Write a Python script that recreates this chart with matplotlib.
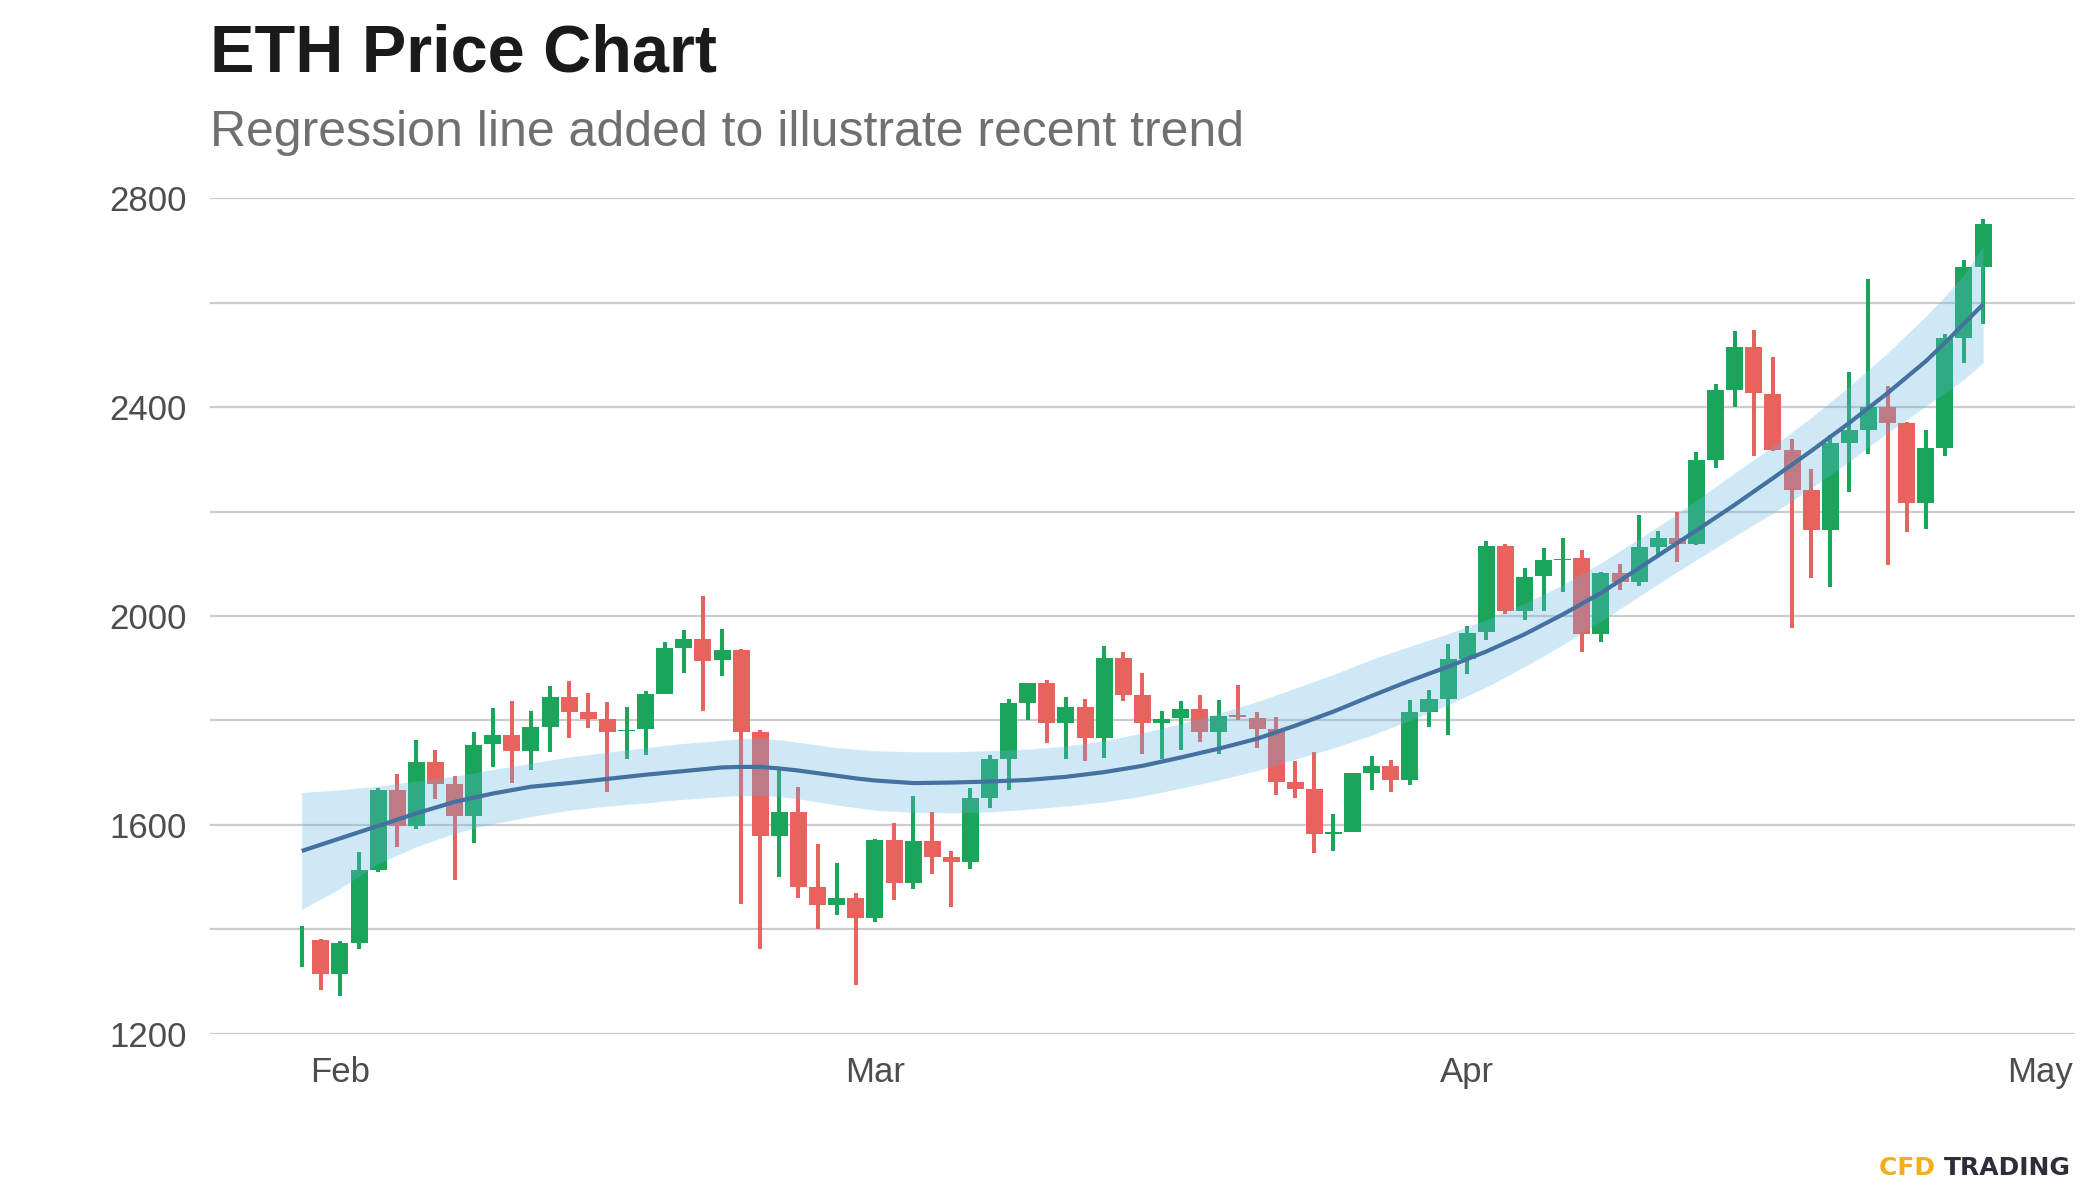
import numpy as np
import pandas as pd
import matplotlib
matplotlib.use("Agg")
import matplotlib.pyplot as plt
import matplotlib.dates as mdates

# daily candles, 2023-01-30 .. 2023-04-28
start_date = "2023-01-30"
opens = [1328, 1379, 1315, 1374, 1513, 1667, 1598, 1720, 1678, 1616,
         1754, 1772, 1742, 1788, 1845, 1816, 1803, 1779, 1783, 1851,
         1939, 1956, 1915, 1935, 1778, 1579, 1624, 1481, 1447, 1460,
         1422, 1571, 1489, 1569, 1539, 1529, 1651, 1726, 1834, 1872,
         1796, 1826, 1767, 1920, 1849, 1796, 1805, 1822, 1777, 1810,
         1805, 1783, 1683, 1669, 1583, 1587, 1700, 1712, 1686, 1817,
         1841, 1918, 1969, 2135, 2009, 2076, 2108, 2111, 1965, 2082,
         2066, 2132, 2149, 2138, 2298, 2432, 2516, 2426, 2318, 2241,
         2164, 2332, 2357, 2400, 2369, 2217, 2321, 2533, 2668]
closes = [1406, 1315, 1374, 1513, 1667, 1598, 1720, 1679, 1616, 1753,
          1772, 1742, 1788, 1845, 1817, 1803, 1778, 1782, 1851, 1939,
          1956, 1914, 1935, 1778, 1579, 1624, 1481, 1447, 1460, 1422,
          1571, 1489, 1569, 1539, 1529, 1651, 1726, 1833, 1872, 1796,
          1826, 1767, 1920, 1849, 1796, 1802, 1822, 1777, 1808, 1806,
          1784, 1683, 1669, 1582, 1586, 1700, 1712, 1686, 1816, 1841,
          1918, 1967, 2135, 2009, 2075, 2108, 2110, 1965, 2082, 2066,
          2132, 2149, 2138, 2298, 2432, 2516, 2427, 2318, 2241, 2164,
          2332, 2357, 2400, 2370, 2217, 2321, 2533, 2668, 2750]
highs = [1406, 1381, 1377, 1548, 1670, 1697, 1762, 1743, 1693, 1778,
         1824, 1838, 1818, 1866, 1875, 1852, 1835, 1826, 1856, 1950,
         1973, 2038, 1975, 1937, 1782, 1705, 1672, 1563, 1526, 1469,
         1573, 1603, 1656, 1624, 1549, 1670, 1734, 1842, 1872, 1877,
         1845, 1841, 1943, 1931, 1890, 1819, 1837, 1849, 1840, 1868,
         1817, 1806, 1722, 1739, 1621, 1700, 1731, 1725, 1840, 1859,
         1946, 1981, 2144, 2138, 2092, 2130, 2150, 2127, 2085, 2100,
         2194, 2162, 2199, 2314, 2445, 2545, 2547, 2496, 2339, 2281,
         2347, 2468, 2645, 2440, 2371, 2357, 2541, 2681, 2761]
lows = [1328, 1284, 1273, 1362, 1510, 1558, 1593, 1649, 1495, 1566,
        1711, 1681, 1705, 1740, 1766, 1786, 1662, 1726, 1734, 1850,
        1891, 1819, 1886, 1448, 1362, 1501, 1460, 1401, 1427, 1294,
        1414, 1457, 1478, 1506, 1443, 1515, 1632, 1667, 1800, 1757,
        1726, 1722, 1729, 1838, 1736, 1726, 1743, 1759, 1735, 1801,
        1748, 1657, 1652, 1547, 1549, 1587, 1667, 1662, 1677, 1787,
        1772, 1888, 1955, 2004, 1992, 2009, 2046, 1931, 1950, 2050,
        2058, 2114, 2103, 2136, 2283, 2400, 2307, 2316, 1977, 2072,
        2056, 2238, 2311, 2097, 2160, 2167, 2307, 2485, 2560]

trend_idx = [0, 2, 4, 6, 8, 10, 12, 14, 16, 18, 20, 22, 23, 24, 25, 26,
             27, 28, 29, 30, 32, 34, 36, 38, 40, 42, 44, 46, 48, 50, 52,
             54, 56, 58, 60, 62, 64, 66, 68, 70, 72, 73, 75, 77, 79, 81,
             83, 85, 86, 87, 88]
trend_mid = [1550, 1574, 1598, 1622, 1644, 1660, 1673, 1680, 1688, 1696,
             1703, 1710, 1711, 1711, 1708, 1704, 1699, 1694, 1689, 1685,
             1680, 1681, 1683, 1686, 1692, 1701, 1713, 1729, 1746, 1765,
             1790, 1817, 1847, 1876, 1903, 1932, 1965, 2003, 2044, 2092,
             2140, 2164, 2213, 2264, 2316, 2370, 2427, 2488, 2523, 2560,
             2597]
trend_hi = [1662, 1667, 1674, 1684, 1693, 1706, 1718, 1730, 1739, 1748,
            1756, 1762, 1765, 1766, 1763, 1758, 1753, 1748, 1745, 1742,
            1740, 1740, 1742, 1745, 1751, 1761, 1776, 1794, 1814, 1836,
            1862, 1888, 1917, 1942, 1966, 1993, 2024, 2060, 2102, 2148,
            2196, 2222, 2274, 2325, 2380, 2440, 2504, 2574, 2612, 2654,
            2708]
trend_lo = [1438, 1478, 1526, 1558, 1584, 1602, 1616, 1628, 1636, 1642,
            1649, 1654, 1656, 1656, 1654, 1650, 1644, 1638, 1633, 1628,
            1624, 1623, 1625, 1630, 1636, 1644, 1655, 1670, 1686, 1704,
            1726, 1747, 1772, 1800, 1830, 1864, 1903, 1945, 1990, 2038,
            2085, 2108, 2153, 2197, 2245, 2296, 2351, 2402, 2428, 2453,
            2486]

y_ticks = [1200, 1600, 2000, 2400, 2800]

dates = pd.date_range(start_date, periods=len(opens), freq="D")
x = mdates.date2num(dates)
o = np.array(opens)
c = np.array(closes)
up = c >= o

green = "#1aa55a"
red = "#e8625e"
colors = np.where(up, green, red)

fig = plt.figure(figsize=(21, 12), dpi=100)
ax = fig.add_axes([0.1, 0.1386, 0.888, 0.6961])

# horizontal grid every 200
for g in range(1200, 2801, 200):
    ax.axhline(g, color="#cccccc", lw=1.6, zorder=0)

body_w = np.full(len(x), 0.89)
body_w[0] = 0.2
ax.vlines(x, lows, highs, colors=colors, lw=2.9, zorder=2)
ax.bar(x, np.abs(c - o), bottom=np.minimum(o, c), width=body_w,
       color=colors, zorder=2)

tx = x[trend_idx]
ax.fill_between(tx, trend_lo, trend_hi, color="#62b6e1", alpha=0.3,
                lw=0, zorder=3)
ax.plot(tx, trend_mid, color="#4471a0", lw=3.0, zorder=4,
        solid_capstyle="butt", solid_joinstyle="round")

x0 = x[0]
ax.set_xlim(x0 - 4.8, x0 + 92.8)
ax.set_ylim(1200, 2800)
ax.set_yticks(y_ticks)
ax.xaxis.set_major_locator(mdates.MonthLocator())
ax.xaxis.set_major_formatter(mdates.DateFormatter("%b"))
for s in ax.spines.values():
    s.set_visible(False)
ax.tick_params(axis="both", length=0, labelsize=25, labelcolor="#4d4d4d")
ax.tick_params(axis="y", pad=17)
ax.tick_params(axis="x", pad=16)
for lab in ax.get_xticklabels() + ax.get_yticklabels():
    lab.set_family("Liberation Sans")

fig.text(0.1, 0.955, "ETH Price Chart", fontsize=48, fontweight="bold",
         family="Liberation Sans", color="#1a1a1a", va="center", ha="left")
fig.text(0.1, 0.889, "Regression line added to illustrate recent trend",
         fontsize=36, family="Liberation Sans", color="#707070",
         va="center", ha="left")

t1 = fig.text(0.8948, 0.027, "CFD ", fontsize=18, fontweight="bold",
              family="DejaVu Sans", color="#f2ae1c", va="center", ha="left")
fig.canvas.draw()
bb = t1.get_window_extent()
fig.text(bb.x1 / fig.bbox.width, 0.027, "TRADING", fontsize=18,
         fontweight="bold", family="DejaVu Sans", color="#2e2e3a",
         va="center", ha="left")

fig.savefig("out.png", dpi=100)
